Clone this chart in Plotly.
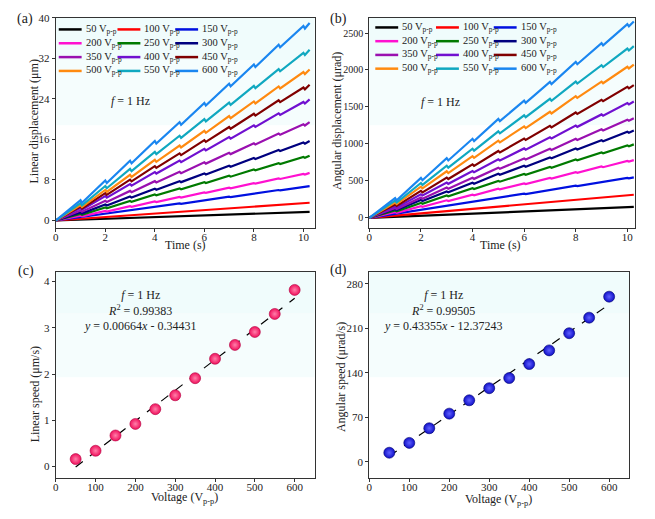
import plotly.graph_objects as go

W, H = 655, 519
FONT = "Liberation Serif"

# ---- data ----
voltages = [50, 100, 150, 200, 250, 300, 350, 400, 450, 500, 550, 600]
line_colors = ['#000000', '#ff0000', '#0010e0', '#ff10d0', '#007a00', '#00007f',
               '#9a10b0', '#7010d0', '#800000', '#ff8a10', '#10a8c0', '#1a86f0']

# (a) linear displacement (um), value reached at each second t = 1..10
lin_peaks = [
    [0.17, 0.34, 0.51, 0.68, 0.84, 1.00, 1.17, 1.34, 1.50, 1.67],
    [0.35, 0.70, 1.05, 1.40, 1.73, 2.07, 2.41, 2.75, 3.10, 3.43],
    [0.68, 1.37, 2.05, 2.72, 3.37, 4.02, 4.69, 5.35, 6.02, 6.67],
    [0.95, 1.90, 2.83, 3.76, 4.66, 5.56, 6.48, 7.39, 8.32, 9.20],
    [1.30, 2.58, 3.85, 5.12, 6.34, 7.58, 8.82, 10.06, 11.33, 12.54],
    [1.60, 3.16, 4.72, 6.28, 7.77, 9.29, 10.81, 12.33, 13.90, 15.38],
    [1.98, 3.91, 5.84, 7.77, 9.60, 11.48, 13.36, 15.24, 17.17, 19.00],
    [2.44, 4.82, 7.19, 9.57, 11.83, 14.14, 16.46, 18.78, 21.15, 23.40],
    [2.73, 5.40, 8.07, 10.73, 13.26, 15.86, 18.46, 21.06, 23.72, 26.25],
    [3.05, 6.03, 9.00, 11.97, 14.80, 17.70, 20.60, 23.50, 26.46, 29.30],
    [3.45, 6.81, 10.17, 13.53, 16.73, 20.00, 23.28, 26.56, 29.90, 33.10],
    [4.00, 7.90, 11.80, 15.70, 19.40, 23.20, 27.00, 30.80, 34.70, 38.40],
]
lin_slip = [0.02, 0.05, 0.09, 0.12, 0.17, 0.20, 0.25, 0.30, 0.35, 0.39, 0.44, 0.50]
lin_end = [1.70, 3.50, 6.80, 9.40, 12.80, 15.70, 19.40, 23.90, 26.80, 29.80, 33.70, 39.00]

# (b) angular displacement (urad), value reached at each second t = 1..10
ang_peaks = [
    [15, 30, 45, 59, 74, 88, 102, 117, 131, 145],
    [31, 63, 95, 126, 157, 186, 216, 248, 278, 308],
    [55, 111, 166, 221, 276, 327, 380, 435, 487, 541],
    [78, 158, 237, 314, 393, 466, 540, 619, 694, 770],
    [100, 202, 302, 400, 500, 594, 689, 789, 884, 980],
    [119, 240, 358, 475, 595, 705, 818, 937, 1050, 1165],
    [135, 273, 409, 542, 678, 804, 933, 1068, 1197, 1328],
    [158, 319, 477, 633, 792, 939, 1090, 1248, 1399, 1552],
    [181, 365, 545, 723, 904, 1073, 1244, 1425, 1597, 1772],
    [208, 421, 629, 834, 1043, 1237, 1435, 1645, 1843, 2044],
    [233, 471, 705, 935, 1169, 1387, 1609, 1843, 2065, 2290],
    [267, 539, 806, 1069, 1337, 1586, 1840, 2108, 2362, 2620],
]
ang_slip = [2, 3, 6, 9, 11, 13, 15, 17, 20, 23, 26, 30]
ang_end = [147, 312, 548, 780, 994, 1181, 1346, 1573, 1796, 2072, 2322, 2656]

t_end = 10.25

# (c) / (d) speeds
lin_speed = [0.16, 0.34, 0.67, 0.92, 1.24, 1.54, 1.91, 2.33, 2.63, 2.91, 3.30, 3.82]
ang_speed = [14.5, 30, 53, 76, 97, 116, 132, 154, 175.5, 202.5, 227, 260]
lin_fit = (0.00664, -0.34431)
ang_fit = (0.43355, -12.37243)
fit_x = [50, 600]


def px(x):
    return x / W


def py(y):
    return 1 - y / H


# panel boxes in pixels: left, right, top, bottom
panels = {
    'a': (53, 313, 12, 225),
    'b': (368, 635, 12, 225),
    'c': (53, 313, 269, 478),
    'd': (368, 629, 269, 478),
}


def stair(peaks, slip, end):
    xs, ys = [0], [0]
    for k, p in enumerate(peaks, start=1):
        xs += [k, k + 0.06]
        ys += [p, p - slip]
    xs.append(t_end)
    ys.append(end)
    return xs, ys


fig = go.Figure()

for i, v in enumerate(voltages):
    xs, ys = stair(lin_peaks[i], lin_slip[i], lin_end[i])
    fig.add_trace(go.Scatter(x=xs, y=ys, mode='lines', xaxis='x', yaxis='y',
                             line=dict(color=line_colors[i], width=2.2), showlegend=False))
for i, v in enumerate(voltages):
    xs, ys = stair(ang_peaks[i], ang_slip[i], ang_end[i])
    fig.add_trace(go.Scatter(x=xs, y=ys, mode='lines', xaxis='x2', yaxis='y2',
                             line=dict(color=line_colors[i], width=2.2), showlegend=False))

# fit lines + points
for (fit, xa, ya) in [(lin_fit, 'x3', 'y3'), (ang_fit, 'x4', 'y4')]:
    fig.add_trace(go.Scatter(x=fit_x, y=[fit[0] * x + fit[1] for x in fit_x], mode='lines',
                             xaxis=xa, yaxis=ya, showlegend=False,
                             line=dict(color='black', width=1.2, dash='dash')))

fig.add_trace(go.Scatter(x=voltages, y=lin_speed, mode='markers', xaxis='x3', yaxis='y3',
                         showlegend=False,
                         marker=dict(size=11, color='#f0105c', line=dict(width=0.6, color='#b00040'),
                                     gradient=dict(type='radial', color='#ff80aa'))))
fig.add_trace(go.Scatter(x=voltages, y=ang_speed, mode='markers', xaxis='x4', yaxis='y4',
                         showlegend=False,
                         marker=dict(size=11, color='#1010c8', line=dict(width=0.6, color='#000070'),
                                     gradient=dict(type='radial', color='#6060ff'))))

axis_common = dict(showline=True, linecolor='#333333', linewidth=1, mirror=True,
                   ticks='outside', ticklen=3, tickcolor='#333333', showgrid=False,
                   zeroline=False, tickfont=dict(family=FONT, size=11, color='#222222'))
x_common = dict(axis_common, ticklabelstandoff=-5)


def dom(key):
    l, r, t, b = panels[key]
    return [px(l), px(r)], [py(b), py(t)]


xa, ya = dom('a')
xb, yb = dom('b')
xc, yc = dom('c')
xd, yd = dom('d')

fig.update_layout(
    width=W, height=H, margin=dict(l=0, r=0, t=0, b=0),
    paper_bgcolor='white', plot_bgcolor='white',
    font=dict(family=FONT, color='#222222'),
    xaxis=dict(x_common, domain=xa, anchor='y', range=[0, 10.45], dtick=2),
    yaxis=dict(axis_common, domain=ya, anchor='x', range=[-1.56, 40], dtick=8),
    xaxis2=dict(x_common, domain=xb, anchor='y2', range=[0, 10.3], dtick=2),
    yaxis2=dict(axis_common, domain=yb, anchor='x2', range=[-143, 2705], dtick=500,
                tickfont=dict(family=FONT, size=10, color='#222222')),
    xaxis3=dict(x_common, domain=xc, anchor='y3', range=[0, 650], dtick=100),
    yaxis3=dict(axis_common, domain=yc, anchor='x3', range=[-0.26, 4.21], dtick=1),
    xaxis4=dict(x_common, domain=xd, anchor='y4', range=[0, 650], dtick=100),
    yaxis4=dict(axis_common, domain=yd, anchor='x4', range=[-26, 299], dtick=70),
)

# light cyan background in the upper half of each panel
shapes = []
for n in ['', '2', '3', '4']:
    shapes.append(dict(type='rect', xref='x%s domain' % n, yref='y%s domain' % n,
                       x0=0, x1=1, y0=0.49, y1=0.8, fillcolor='#f5fdfd', line_width=0, layer='below'))
    shapes.append(dict(type='rect', xref='x%s domain' % n, yref='y%s domain' % n,
                       x0=0, x1=1, y0=0.8, y1=1, fillcolor='#f0fcfc', line_width=0, layer='below'))

annotations = []

# legends for (a) and (b)
leg_specs = [('a', [3, 62, 120], 23.7, 14.0), ('b', [6, 67, 125], 21.7, 13.9)]
for key, cols, row0, drow in leg_specs:
    l, r, t, b = panels[key]
    for i, v in enumerate(voltages):
        row, col = divmod(i, 3)
        x0 = l + cols[col]
        yy = t + row0 - 12 + row * drow
        shapes.append(dict(type='line', xref='paper', yref='paper',
                           x0=px(x0), x1=px(x0 + 23), y0=py(yy), y1=py(yy),
                           line=dict(color=line_colors[i], width=2.5)))
        annotations.append(dict(xref='paper', yref='paper', x=px(x0 + 25), y=py(yy),
                                xanchor='left', yanchor='middle', showarrow=False,
                                text='%d V<sub>p-p</sub>' % v,
                                font=dict(family=FONT, size=10.5, color='#222222')))

# panel letters
for lab, x, y in [('(a)', 22, 13), ('(b)', 337, 13), ('(c)', 23, 268), ('(d)', 337, 267)]:
    annotations.append(dict(xref='paper', yref='paper', x=px(x), y=py(y), text=lab,
                            showarrow=False, xanchor='center', yanchor='middle',
                            font=dict(family=FONT, size=14, color='#222222')))

# axis titles
titles = [
    ('Time (s)', 183, 242, 0),
    ('Time (s)', 500, 242, 0),
    ('Voltage (V<sub>p-p</sub>)', 182, 498, 0),
    ('Voltage (V<sub>p-p</sub>)', 498, 500, 0),
    ('Linear displacement (\u03bcm)', 31, 117, -90),
    ('Angular displacement (\u03bcrad)', 335, 116, -90),
    ('Linear speed (\u03bcm/s)', 33, 393, -90),
    ('Angular speed (\u03bcrad/s)', 339, 375, -90),
]
for txt, x, y, ang in titles:
    annotations.append(dict(xref='paper', yref='paper', x=px(x), y=py(y), text=txt,
                            showarrow=False, xanchor='center', yanchor='middle', textangle=ang,
                            font=dict(family=FONT, size=12, color='#222222')))

# in-plot notes
notes = [
    ('<i>f</i> = 1 Hz', 128, 96),
    ('<i>f</i> = 1 Hz', 440, 97),
    ('<i>f</i> = 1 Hz<br><i>R</i><sup>2</sup> = 0.99383<br><i>y</i> = 0.00664<i>x</i> - 0.34431', 138, 308),
    ('<i>f</i> = 1 Hz<br><i>R</i><sup>2</sup> = 0.99505<br><i>y</i> = 0.43355<i>x</i> - 12.37243', 442, 308),
]
for txt, x, y in notes:
    annotations.append(dict(xref='paper', yref='paper', x=px(x), y=py(y), text=txt,
                            showarrow=False, xanchor='center', yanchor='middle', align='center',
                            font=dict(family=FONT, size=12, color='#222222')))

fig.update_layout(shapes=shapes, annotations=annotations)

# page body has a default 8px margin; drop it so the figure fills the window
fig.write_html("out.html", config={'displayModeBar': False},
               post_script="document.body.style.margin='0';")
